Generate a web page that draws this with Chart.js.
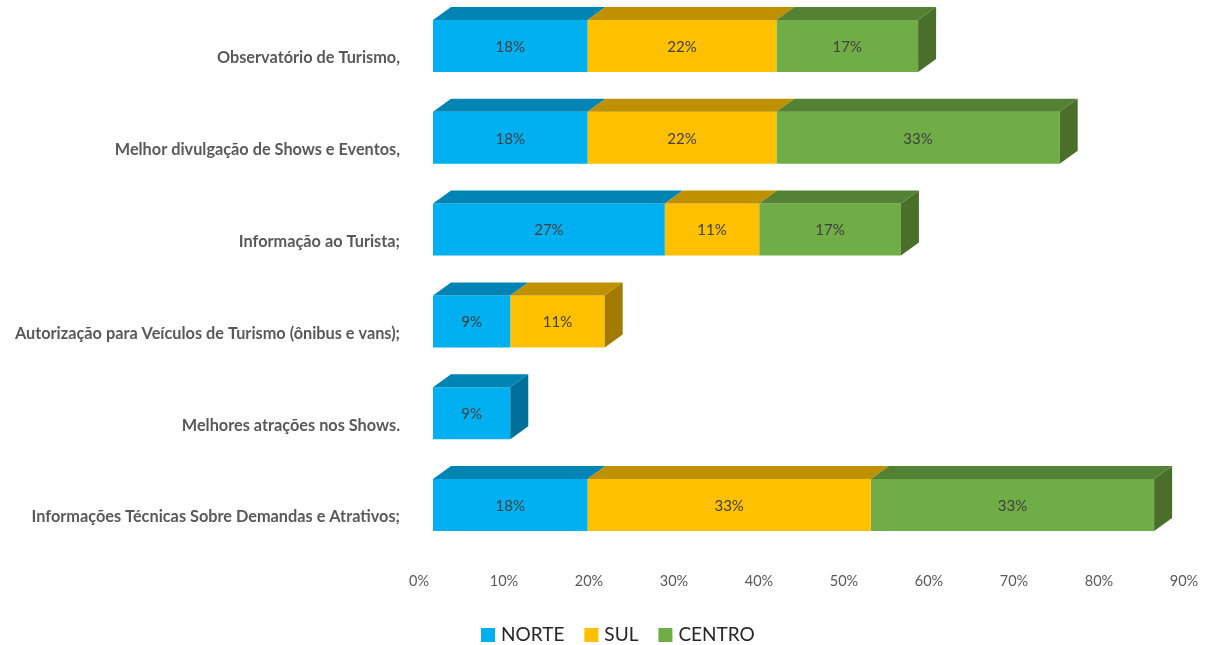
<!DOCTYPE html>
<html><head><meta charset="utf-8">
<style>html,body{margin:0;padding:0;background:#fff}#w{width:1210px;height:645px;position:relative}</style>
<script src="https://cdn.jsdelivr.net/npm/chart.js@4"></script>
</head><body><div id="w"><canvas id="c" width="1210" height="645"></canvas></div>
<script>
const categories = ["Observatório de Turismo,","Melhor divulgação de Shows e Eventos,","Informação ao Turista;","Autorização para Veículos de Turismo (ônibus e vans);","Melhores atrações nos Shows.","Informações Técnicas Sobre Demandas e Atrativos;"];
const norte = [18.18,18.18,27.27,9.09,9.09,18.18];
const sul = [22.22,22.22,11.11,11.11,null,33.33];
const centro = [16.67,33.33,16.67,null,null,33.33];
const tickValues = [0,10,20,30,40,50,60,70,80,90];
const DX = 18, DY = 13;
const faces = [
 {top:'#0084B4', side:'#00709A'},
 {top:'#BF9000', side:'#A37B00'},
 {top:'#548235', side:'#4A6F2A'}
];
const box3d = {
 id:'box3d',
 afterDatasetsDraw(chart){
  const ctx = chart.ctx;
  ctx.save();
  chart.data.labels.forEach((_,i)=>{
    let last = -1;
    chart.data.datasets.forEach((d,k)=>{ if(d.data[i]!=null) last=k; });
    chart.data.datasets.forEach((d,k)=>{
      if(d.data[i]==null) return;
      const el = chart.getDatasetMeta(k).data[i];
      const h = el.height/2, t = el.y-h, b = el.y+h, l = el.base, r = el.x;
      ctx.fillStyle = faces[k].top;
      ctx.beginPath(); ctx.moveTo(l,t); ctx.lineTo(l+DX,t-DY); ctx.lineTo(r+DX,t-DY); ctx.lineTo(r,t); ctx.closePath(); ctx.fill();
      if(k===last){
        ctx.fillStyle = faces[k].side;
        ctx.beginPath(); ctx.moveTo(r,t); ctx.lineTo(r+DX,t-DY); ctx.lineTo(r+DX,b-DY); ctx.lineTo(r,b); ctx.closePath(); ctx.fill();
      }
      ctx.fillStyle = '#404040';
      ctx.font = '15px Lato';
      ctx.textAlign = 'center'; ctx.textBaseline = 'middle';
      ctx.fillText(Math.round(d.data[i])+'%', (l+r)/2, el.y+1);
    });
  });
  // legend
  let x = 481;
  ctx.font = '19px Lato'; ctx.textAlign='left'; ctx.textBaseline='middle';
  chart.data.datasets.forEach(d=>{
    ctx.fillStyle = d.backgroundColor;
    ctx.fillRect(x,628,14,14);
    ctx.fillStyle = '#262626';
    ctx.fillText(d.label,x+20,635);
    x += 20 + ctx.measureText(d.label).width + 20;
  });
  ctx.restore();
 }
};
const shared = {categoryPercentage:0.566, barPercentage:1, borderWidth:0};
new Chart(document.getElementById('c'),{
 type:'bar',
 data:{labels:categories,datasets:[
  {label:'NORTE',data:norte,backgroundColor:'#00B0F0',...shared},
  {label:'SUL',data:sul,backgroundColor:'#FFC000',...shared},
  {label:'CENTRO',data:centro,backgroundColor:'#70AD47',...shared}
 ]},
 options:{
  indexAxis:'y',responsive:false,animation:false,
  layout:{padding:{left:0,right:12,top:0,bottom:44}},
  plugins:{
   tooltip:{enabled:false},
   legend:{display:false}
  },
  scales:{
   x:{stacked:true,min:0,max:90,
      afterBuildTicks(s){ s.ticks = tickValues.map(v=>({value:v})); },
      afterFit(s){ s.height=50; s.paddingLeft=0; s.paddingRight=0; s.paddingTop=0; s.paddingBottom=0; },
      grid:{display:false},border:{display:false},
      ticks:{labelOffset:-14,padding:14,maxRotation:0,autoSkip:false,color:'#595959',font:{family:'Lato',size:14.5},callback:v=>v+'%'}},
   y:{stacked:true,
      afterFit(s){ s.width=433; s.paddingLeft=0; s.paddingRight=0; s.paddingTop=0; s.paddingBottom=0; },
      grid:{display:false,drawTicks:false},border:{display:false},
      ticks:{labelOffset:12,padding:33,autoSkip:false,color:'#595959',font:{family:'Lato',size:16.3,weight:'bold'}}}
  }
 },
 plugins:[box3d]
});
</script></body></html>
